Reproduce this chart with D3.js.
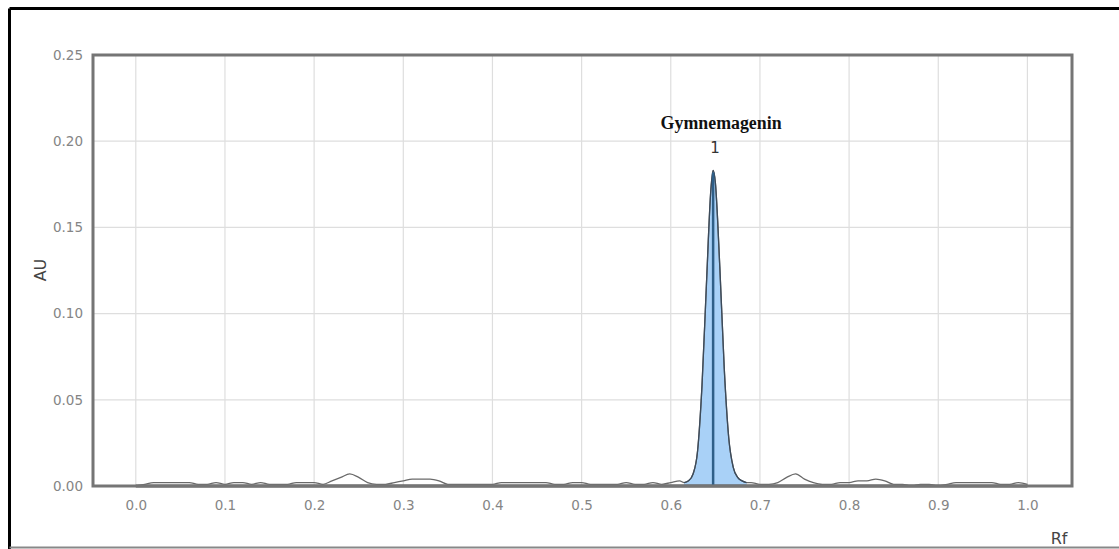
<!DOCTYPE html>
<html>
<head>
<meta charset="utf-8">
<script src="https://cdn.jsdelivr.net/npm/d3@7"></script>
<style>
  html, body { margin: 0; padding: 0; background: #fff; }
  svg { display: block; }
</style>
</head>
<body>
<div id="chart"></div>
<script>
"use strict";

// densitometric scan
var baseRf = [0.00, 0.01, 0.02, 0.03, 0.04, 0.05, 0.06, 0.07, 0.08, 0.09,
              0.10, 0.11, 0.12, 0.13, 0.14, 0.15, 0.16, 0.17, 0.18, 0.19,
              0.20, 0.21, 0.22, 0.23, 0.24, 0.25, 0.26, 0.27, 0.28, 0.29,
              0.30, 0.31, 0.32, 0.33, 0.34, 0.35, 0.36, 0.37, 0.38, 0.39,
              0.40, 0.41, 0.42, 0.43, 0.44, 0.45, 0.46, 0.47, 0.48, 0.49,
              0.50, 0.51, 0.52, 0.53, 0.54, 0.55, 0.56, 0.57, 0.58, 0.59,
              0.60, 0.61,
              0.69, 0.70, 0.71, 0.72, 0.73, 0.74, 0.75, 0.76, 0.77, 0.78, 0.79,
              0.80, 0.81, 0.82, 0.83, 0.84, 0.85, 0.86, 0.87, 0.88, 0.89,
              0.90, 0.91, 0.92, 0.93, 0.94, 0.95, 0.96, 0.97, 0.98, 0.99, 1.00];
var baseAu = [0.000, 0.001, 0.002, 0.002, 0.002, 0.002, 0.002, 0.001, 0.001, 0.002,
              0.001, 0.002, 0.002, 0.001, 0.002, 0.001, 0.001, 0.001, 0.002, 0.002,
              0.002, 0.001, 0.003, 0.005, 0.007, 0.005, 0.002, 0.001, 0.001, 0.002,
              0.003, 0.004, 0.004, 0.004, 0.003, 0.001, 0.001, 0.001, 0.001, 0.001,
              0.001, 0.002, 0.002, 0.002, 0.002, 0.002, 0.002, 0.001, 0.001, 0.002,
              0.002, 0.001, 0.001, 0.001, 0.001, 0.002, 0.001, 0.001, 0.002, 0.001,
              0.002, 0.003,
              0.002, 0.001, 0.001, 0.002, 0.005, 0.007, 0.004, 0.002, 0.001, 0.001, 0.002,
              0.002, 0.003, 0.003, 0.004, 0.003, 0.001, 0.001, 0.000, 0.001, 0.001,
              0.000, 0.001, 0.002, 0.002, 0.002, 0.002, 0.002, 0.001, 0.001, 0.002, 0.001];

var peakRf = [0.615, 0.620, 0.625, 0.630, 0.635, 0.640, 0.645, 0.6475, 0.650,
              0.655, 0.660, 0.665, 0.670, 0.675, 0.680, 0.685];
var peakAu = [0.002, 0.003, 0.007, 0.020, 0.058, 0.117, 0.172, 0.183, 0.176,
              0.127, 0.068, 0.028, 0.011, 0.005, 0.003, 0.002];

var peakName = "Gymnemagenin";
var peakNo = "1";
var peakPos = 0.6475;

var xTicks = [0.0, 0.1, 0.2, 0.3, 0.4, 0.5, 0.6, 0.7, 0.8, 0.9, 1.0];
var yTicks = [0.00, 0.05, 0.10, 0.15, 0.20, 0.25];

var W = 1119, H = 549;

var svg = d3.select("#chart").append("svg")
  .attr("width", W).attr("height", H);

// outer frame of the figure
svg.append("line").attr("x1", 9.5).attr("y1", 8.5).attr("x2", W).attr("y2", 8.5)
  .attr("stroke", "#000").attr("stroke-width", 3);
svg.append("line").attr("x1", 9.5).attr("y1", 8.5).attr("x2", 9.5).attr("y2", H)
  .attr("stroke", "#000").attr("stroke-width", 3);
svg.append("line").attr("x1", 9.5).attr("y1", 547.5).attr("x2", W).attr("y2", 547.5)
  .attr("stroke", "#888").attr("stroke-width", 2);

var x = d3.scaleLinear().domain([-0.048, 1.05]).range([93, 1072]);
var y = d3.scaleLinear().domain([0, 0.25]).range([486, 55]);

// grid
svg.append("g").selectAll("line").data(xTicks).enter().append("line")
  .attr("x1", function (d) { return x(d); }).attr("x2", function (d) { return x(d); })
  .attr("y1", y(0.25)).attr("y2", y(0))
  .attr("stroke", "#dedede").attr("stroke-width", 1.2);
svg.append("g").selectAll("line").data(yTicks).enter().append("line")
  .attr("x1", x.range()[0]).attr("x2", x.range()[1])
  .attr("y1", function (d) { return y(d); }).attr("y2", function (d) { return y(d); })
  .attr("stroke", "#dedede").attr("stroke-width", 1.2);

// axes (labels only)
var xAxis = d3.axisBottom(x).tickValues(xTicks).tickSize(0).tickPadding(14)
  .tickFormat(d3.format(".1f"));
var yAxis = d3.axisLeft(y).tickValues(yTicks).tickSize(0).tickPadding(10)
  .tickFormat(d3.format(".2f"));

var gx = svg.append("g").attr("transform", "translate(0," + y(0) + ")").call(xAxis);
var gy = svg.append("g").attr("transform", "translate(" + x.range()[0] + ",0)").call(yAxis);
[gx, gy].forEach(function (g) {
  g.select(".domain").remove();
  g.selectAll("text")
   .attr("fill", "#858585")
   .style("font-family", "DejaVu Sans, Verdana, sans-serif")
   .style("font-size", "13.5px");
});

// signal
var signal = [];
baseRf.forEach(function (r, i) { signal.push({ rf: r, au: baseAu[i] }); });
peakRf.forEach(function (r, i) { signal.push({ rf: r, au: peakAu[i] }); });
signal.sort(function (a, b) { return a.rf - b.rf; });

var peak = peakRf.map(function (r, i) { return { rf: r, au: peakAu[i] }; });

svg.append("path")
  .datum(peak)
  .attr("fill", "#a9d1f7")
  .attr("d", d3.area()
    .curve(d3.curveMonotoneX)
    .x(function (d) { return x(d.rf); })
    .y0(y(0))
    .y1(function (d) { return y(d.au); }));

// baseline of the scan
svg.append("line")
  .attr("x1", x(0)).attr("x2", x(1))
  .attr("y1", y(0)).attr("y2", y(0))
  .attr("stroke", "#555").attr("stroke-width", 3);

svg.append("path")
  .datum(signal)
  .attr("fill", "none")
  .attr("stroke", "#6a6a6a")
  .attr("stroke-width", 1.3)
  .attr("d", d3.line()
    .curve(d3.curveMonotoneX)
    .x(function (d) { return x(d.rf); })
    .y(function (d) { return y(d.au); }));

// peak outline darker
svg.append("path")
  .datum(peak)
  .attr("fill", "none")
  .attr("stroke", "#3b4a5a")
  .attr("stroke-width", 1.3)
  .attr("d", d3.line()
    .curve(d3.curveMonotoneX)
    .x(function (d) { return x(d.rf); })
    .y(function (d) { return y(d.au); }));

var peakMax = d3.max(peakAu);
svg.append("line")
  .attr("x1", x(peakPos)).attr("x2", x(peakPos))
  .attr("y1", y(0)).attr("y2", y(peakMax) + 2)
  .attr("stroke", "#2f5f88").attr("stroke-width", 2.5);

// plot frame
svg.append("rect")
  .attr("x", x.range()[0]).attr("y", y.range()[1])
  .attr("width", x.range()[1] - x.range()[0])
  .attr("height", y.range()[0] - y.range()[1])
  .attr("fill", "none")
  .attr("stroke", "#757575").attr("stroke-width", 3);

// peak label
svg.append("text")
  .attr("x", x(peakPos) + 8).attr("y", 129)
  .attr("text-anchor", "middle")
  .attr("textLength", 121)
  .attr("lengthAdjust", "spacingAndGlyphs")
  .style("font-family", "Liberation Serif, Times New Roman, serif")
  .style("font-size", "18px")
  .style("font-weight", "bold")
  .attr("fill", "#111")
  .text(peakName);
svg.append("text")
  .attr("x", x(peakPos) + 2).attr("y", 153)
  .attr("text-anchor", "middle")
  .style("font-family", "DejaVu Sans, Verdana, sans-serif")
  .style("font-size", "15px")
  .attr("fill", "#333")
  .text(peakNo);

// axis titles
svg.append("text")
  .attr("transform", "translate(46,270) rotate(-90)")
  .attr("text-anchor", "middle")
  .style("font-family", "DejaVu Sans, Verdana, sans-serif")
  .style("font-size", "16px")
  .attr("fill", "#444")
  .text("AU");
svg.append("text")
  .attr("x", 1059).attr("y", 544)
  .attr("text-anchor", "middle")
  .style("font-family", "DejaVu Sans, Verdana, sans-serif")
  .style("font-size", "16px")
  .attr("fill", "#444")
  .text("Rf");
</script>
</body>
</html>
